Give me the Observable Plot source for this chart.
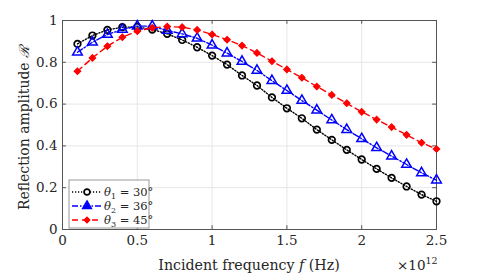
<!DOCTYPE html>
<html><head><meta charset="utf-8">
<script src="https://cdn.jsdelivr.net/npm/d3@7"></script>
<script src="https://cdn.jsdelivr.net/npm/@observablehq/plot@0.6"></script>
<style>body{margin:0;background:#fff}#c{position:relative;width:482px;height:276px}</style>
</head><body><div id="c"></div>
<script>
const freq = [0.1,0.2,0.3,0.4,0.5,0.6,0.7,0.8,0.9,1.0,1.1,1.2,1.3,1.4,1.5,1.6,1.7,1.8,1.9,2.0,2.1,2.2,2.3,2.4,2.5];
const R1 = [0.888,0.928,0.955,0.968,0.969,0.957,0.936,0.907,0.872,0.832,0.789,0.737,0.689,0.632,0.580,0.532,0.478,0.429,0.381,0.335,0.290,0.247,0.206,0.167,0.135];
const R2 = [0.848,0.896,0.933,0.957,0.973,0.973,0.952,0.936,0.915,0.882,0.844,0.804,0.761,0.712,0.665,0.617,0.571,0.524,0.478,0.434,0.391,0.351,0.311,0.271,0.236];
const R3 = [0.757,0.821,0.877,0.920,0.949,0.965,0.971,0.968,0.955,0.933,0.908,0.880,0.845,0.805,0.766,0.726,0.684,0.644,0.604,0.563,0.526,0.490,0.453,0.415,0.385];
const thetaSub = ["1","2","3"];
const thetaDeg = ["30°","36°","45°"];
const xTicks = [0,0.5,1,1.5,2,2.5];
const yTicks = [0,0.2,0.4,0.6,0.8,1];

const FF = "DejaVu Serif";
const series = [
  {vals: R1, color: "#000000", dash: "1.2,1.8", symbol: "circle", fill: "none", r: 3.3, sw: 1.7},
  {vals: R2, color: "#0000ff", dash: "6,2,1.5,2", symbol: "triangle", fill: "none", r: 3.6, sw: 1.5},
  {vals: R3, color: "#ff0000", dash: "6,4", symbol: "diamond2", fill: "#ff0000", r: 2.9, sw: 1.2}
];

const marks = [
  Plot.ruleX(xTicks.slice(1, -1), {stroke: "#e6e6e6", strokeWidth: 1}),
  Plot.ruleY(yTicks.slice(1, -1), {stroke: "#e6e6e6", strokeWidth: 1}),
  Plot.frame({stroke: "#555", strokeWidth: 1}),
  Plot.ruleX(xTicks, {y1: 0, y2: 0.018, stroke: "#555"}),
  Plot.ruleX(xTicks, {y1: 1, y2: 0.982, stroke: "#555"}),
  Plot.ruleY(yTicks, {x1: 0, x2: 0.026, stroke: "#555"}),
  Plot.ruleY(yTicks, {x1: 2.5, x2: 2.474, stroke: "#555"}),
  Plot.axisX(xTicks, {label: null, tickSize: 0, tickPadding: 6, tickFormat: d => String(d), fontSize: 13.5, fontFamily: FF, fill: "#262626"}),
  Plot.axisY(yTicks, {label: null, tickSize: 0, tickPadding: 5, tickFormat: d => String(d), fontSize: 13.5, fontFamily: FF, fill: "#262626"})
];
for (const s of series) {
  const data = freq.map((f, i) => ({f, R: s.vals[i]}));
  marks.push(Plot.line(data, {x: "f", y: "R", stroke: s.color, strokeWidth: 1.4, strokeDasharray: s.dash}));
  marks.push(Plot.dot(data, {x: "f", y: "R", symbol: () => s.symbol, r: s.r, stroke: s.color, strokeWidth: s.sw, fill: s.fill}));
}

const chart = Plot.plot({
  width: 482, height: 276,
  marginLeft: 62, marginRight: 46, marginTop: 20, marginBottom: 47,
  x: {domain: [0, 2.5], axis: null},
  y: {domain: [0, 1], axis: null},
  style: {fontFamily: FF, background: "#fff", color: "#262626"},
  marks
});
document.getElementById("c").appendChild(chart);

const svg = d3.select(chart);
const xl = svg.append("text").attr("x", 249).attr("y", 270).attr("text-anchor", "middle")
  .style("font-family", FF).attr("font-size", 14.2).attr("fill", "#262626");
xl.append("tspan").text("Incident frequency ");
xl.append("tspan").attr("font-style", "italic").text("f");
xl.append("tspan").text(" (Hz)");
const ex = svg.append("text").attr("x", 397).attr("y", 270).attr("text-anchor", "start")
  .style("font-family", FF).attr("font-size", 13.5).attr("fill", "#262626");
ex.append("tspan").text("×10");
ex.append("tspan").attr("font-size", 9.5).attr("dy", -6).text("12");
const yl = svg.append("text").attr("transform", "translate(29,128) rotate(-90)").attr("text-anchor", "middle")
  .style("font-family", FF).attr("font-size", 14).attr("fill", "#262626");
yl.append("tspan").text("Reflection amplitude ");
yl.append("tspan").attr("font-style", "italic").text("ℛ");

// legend
const lg = svg.append("g").attr("transform", "translate(69,180)");
lg.append("rect").attr("width", 80).attr("height", 48).attr("fill", "#fff").attr("stroke", "#999").attr("stroke-width", 1);
const symMap = {circle: d3.symbolCircle, triangle: d3.symbolTriangle, diamond2: d3.symbolDiamond2};
series.forEach((s, i) => {
  const y = 12 + i * 14;
  lg.append("line").attr("x1", 3).attr("x2", 32).attr("y1", y).attr("y2", y)
    .attr("stroke", s.color).attr("stroke-width", 1.4).attr("stroke-dasharray", s.dash);
  lg.append("path").attr("transform", `translate(18,${y})`)
    .attr("d", d3.symbol(symMap[s.symbol], Math.PI * s.r * s.r * 0.8)())
    .attr("fill", s.symbol === "circle" ? "#fff" : s.color).attr("stroke", s.color).attr("stroke-width", s.sw);
  const t = lg.append("text").attr("x", 35).attr("y", y + 4).attr("text-anchor", "start")
    .style("font-family", FF).attr("font-size", 11.5).attr("fill", "#262626");
  t.append("tspan").attr("font-style", "italic").text("θ");
  t.append("tspan").attr("font-size", 8).attr("dy", 2.5).text(thetaSub[i]);
  t.append("tspan").attr("dy", -2.5).text(" = " + thetaDeg[i]);
});
</script></body></html>
